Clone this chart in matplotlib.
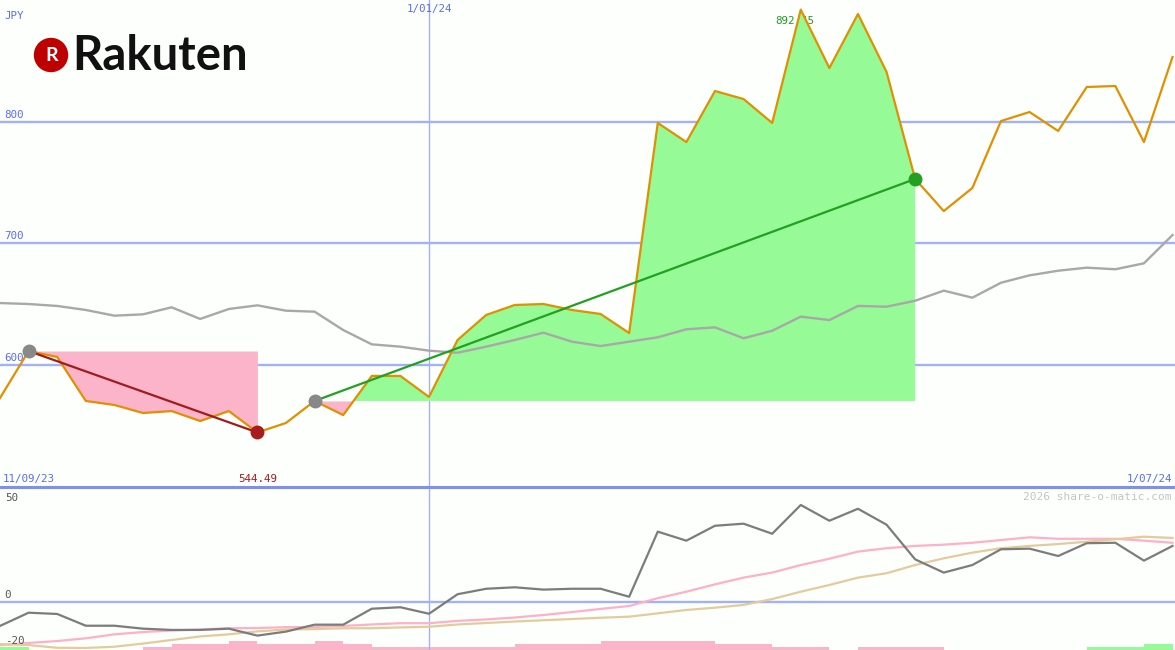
import numpy as np
import matplotlib.pyplot as plt
import matplotlib.dates as mdates
from matplotlib.patches import Circle
from matplotlib.lines import Line2D

# weekly samples, 18 Sep 2023 .. 1 Jul 2024
dates = np.arange('2023-09-18', '2024-07-02', 7, dtype='datetime64[D]')

price = [572.8, 611.5, 606.6, 570.4, 567.1, 560.5, 562.1, 553.9, 562.1, 544.49,
         552.3, 570.4, 558.8, 591.0, 591.0, 573.7, 620.6, 641.2, 649.4, 650.2,
         645.3, 642.0, 626.3, 799.2, 783.5, 825.5, 818.9, 799.2, 892.45, 844.4,
         888.9, 841.2, 753.1, 726.7, 745.7, 800.8, 808.2, 792.6, 828.8, 829.6,
         783.5, 853.5]

sma = [651.0, 650.2, 648.6, 645.3, 640.6, 641.7, 647.5, 637.9, 646.1, 649.1,
       644.7, 643.9, 628.8, 617.0, 615.1, 611.8, 610.1, 615.1, 620.6, 626.6,
       619.2, 615.6, 619.2, 622.8, 629.4, 631.0, 622.0, 628.2, 639.8, 637.0,
       648.6, 648.0, 652.9, 661.2, 655.4, 667.7, 673.8, 677.6, 680.1, 678.8,
       683.7, 707.0]

# lower panel
mom = [-11.4, -5.1, -5.7, -11.3, -11.3, -12.7, -13.3, -13.3, -12.7, -16.0,
       -14.1, -10.8, -10.8, -3.2, -2.5, -5.6, 3.7, 6.3, 7.0, 5.9,
       6.3, 6.3, 2.5, 33.5, 29.2, 36.3, 37.3, 32.5, 46.2, 38.7,
       44.4, 36.8, 20.3, 14.0, 17.6, 25.1, 25.4, 21.9, 28.0, 28.2,
       19.7, 26.7]

avg_pink = [-20.5, -19.5, -18.6, -17.3, -15.4, -14.3, -13.6, -13.1, -12.5, -12.4,
            -12.0, -11.9, -11.4, -10.7, -10.1, -10.1, -9.0, -8.3, -7.4, -6.2,
            -4.8, -3.3, -1.9, 1.8, 4.9, 8.4, 11.6, 14.0, 17.6, 20.6,
            24.0, 25.6, 26.7, 27.3, 28.2, 29.5, 30.8, 30.1, 30.1, 30.1,
            29.2, 28.2]

avg_tan = [-20.1, -20.5, -21.8, -21.9, -21.3, -19.8, -18.1, -16.4, -15.4, -14.0,
           -13.1, -12.9, -12.5, -12.5, -12.1, -11.8, -10.7, -10.0, -9.3, -8.7,
           -8.1, -7.5, -7.0, -5.4, -3.8, -2.7, -1.4, 1.4, 4.9, 8.1,
           11.6, 13.7, 17.6, 20.8, 23.5, 25.6, 26.7, 27.6, 28.7, 29.9,
           31.1, 30.5]

# histogram strip along the bottom (one per week interval)
strip = [1, 0, 0, 0, 0, -1, -2, -2, -3, -2, -2, -3, -2, -1, -1, -1, -1, -1, -2, -2,
         -2, -3, -3, -3, -3, -2, -2, -1, -1, 0, -1, -1, -1, 0, 0, 0, 0, 0, 1, 1, 2]

grid_lvls = [600, 700, 800]
low_lbls = ['50', '0', '-20']
down_start, down_end = 1, 9
up_start, up_end = 11, 32
peak_i = 28

BG = '#fcfffc'
GRID = '#a3b1f5'
LBL = '#5c6cf0'
PINK = '#fbb4c9'
GREEN = '#96fa96'
mono = 'DejaVu Sans Mono'

fig = plt.figure(figsize=(11.75, 6.5), dpi=100, facecolor=BG)
ax = fig.add_axes([0, 163 / 650, 1, 487 / 650], facecolor=BG)
ax2 = fig.add_axes([0, 0, 1, 163 / 650], facecolor=BG)

x0 = mdates.date2num(dates[0])
for a in (ax, ax2):
    a.set_xlim(x0, x0 + 287.6)
    a.axis('off')
    a.axvline(np.datetime64('2024-01-01'), color=GRID, lw=1, zorder=1)

ax.set_ylim(499.6, 900.4)
for v in grid_lvls:
    ax.axhline(v, color=GRID, lw=1.7, zorder=1)
    ax.text(0.004, v + 2, str(v), transform=ax.get_yaxis_transform(),
            fontsize=7.8, family=mono, color=LBL, va='bottom')

p = np.array(price)
# falling leg
ax.fill_between(dates[down_start:down_end + 1], p[down_start:down_end + 1], p[down_start],
                color=PINK, lw=0, zorder=2)
# rising leg
seg = p[up_start:up_end + 1]
base = p[up_start]
ax.fill_between(dates[up_start:up_end + 1], seg, base, where=seg >= base,
                interpolate=True, color=GREEN, lw=0, zorder=2)
ax.fill_between(dates[up_start:up_end + 1], seg, base, where=seg <= base,
                interpolate=True, color=PINK, lw=0, zorder=2)

ax.annotate('%.2f' % price[peak_i], (dates[peak_i], 883), xytext=(-4, 0),
            textcoords='offset points', fontsize=7.8, family=mono,
            color='#229922', ha='center', va='center', zorder=1.5)

ax.plot(dates, sma, color='#a8a8a8', lw=1.7, zorder=3)
ax.plot(dates, price, color='#e09000', lw=1.6, zorder=4)

ax.plot([dates[down_start], dates[down_end]], [p[down_start], p[down_end]],
        color='#a01c1c', lw=1.6, zorder=5)
ax.plot([dates[up_start], dates[up_end]], [p[up_start], p[up_end]],
        color='#22a022', lw=1.6, zorder=5)
ax.plot(dates[down_start], p[down_start], 'o', ms=9, color='#888888', zorder=6)
ax.plot(dates[down_end], p[down_end], 'o', ms=9, color='#a81c1c', zorder=6)
ax.plot(dates[up_start], p[up_start], 'o', ms=9, color='#888888', zorder=6)
ax.plot(dates[up_end], p[up_end], 'o', ms=9, color='#22a022', zorder=6)

ax.text(dates[down_end], 506, '%.2f' % price[down_end], fontsize=7.8, family=mono,
        color='#a01c1c', ha='center', va='center')
ax.text(0.002, 506, '11/09/23', transform=ax.get_yaxis_transform(), fontsize=7.8,
        family=mono, color=LBL, va='center')
ax.text(0.998, 506, '1/07/24', transform=ax.get_yaxis_transform(), fontsize=7.8,
        family=mono, color=LBL, va='center', ha='right')
ax.text(0.004, 0.967, 'JPY', transform=ax.transAxes, fontsize=7.8, family=mono,
        color=LBL, va='center')
ax.text(np.datetime64('2024-01-01'), 0.982, '1/01/24', transform=ax.get_xaxis_transform(),
        fontsize=7.8, family=mono, color=LBL, va='center', ha='center')

# lower panel
ax2.set_ylim(-22.86, 54.76)
ax2.axhline(0, color=GRID, lw=1.7, zorder=1)
ax2.plot(dates, avg_pink, color='#ffb0c8', lw=1.6, zorder=3)
ax2.plot(dates, avg_tan, color='#e2cc9c', lw=1.6, zorder=3)
ax2.plot(dates, mom, color='#7c7c7c', lw=1.6, zorder=4)
for lbl, yc in zip(low_lbls, [0.93, 0.34, 0.055]):
    ax2.text(0.004, yc, lbl, transform=ax2.transAxes, fontsize=7.8,
             family=mono, color='#555555', va='center')
ax2.text(0.997, 0.94, '2026 share-o-matic.com', transform=ax2.transAxes, fontsize=8,
         family=mono, color='#c4c4c4', ha='right', va='center')

axb = ax2.twinx()
axb.set_xlim(ax2.get_xlim())
axb.set_ylim(0, 163 / 3)
axb.axis('off')
lv = np.array(strip)
axb.bar(dates[:-1], np.abs(lv), width=7, align='edge', lw=0,
        color=[GREEN if s > 0 else PINK for s in lv])
axb.set_zorder(ax2.get_zorder() - 1)
ax2.patch.set_visible(False)

# separator between panels
fig.add_artist(Line2D([0, 1], [163 / 650, 163 / 650], color='#7f8ff0', lw=2.2))

# logo
fig.add_artist(Circle((0.51, 5.95), 0.165, transform=fig.dpi_scale_trans,
                      color='#bf0000'))
fig.text(0.513, 5.948, 'R', transform=fig.dpi_scale_trans, fontsize=14,
         fontweight='bold', family='Lato', color='white', ha='center', va='center')
fig.text(0.72, 5.80, 'Rakuten', transform=fig.dpi_scale_trans, fontsize=34,
         fontweight='bold', family='Lato', color='#111111', va='baseline')

fig.savefig('out.png', dpi=100, facecolor=BG)
